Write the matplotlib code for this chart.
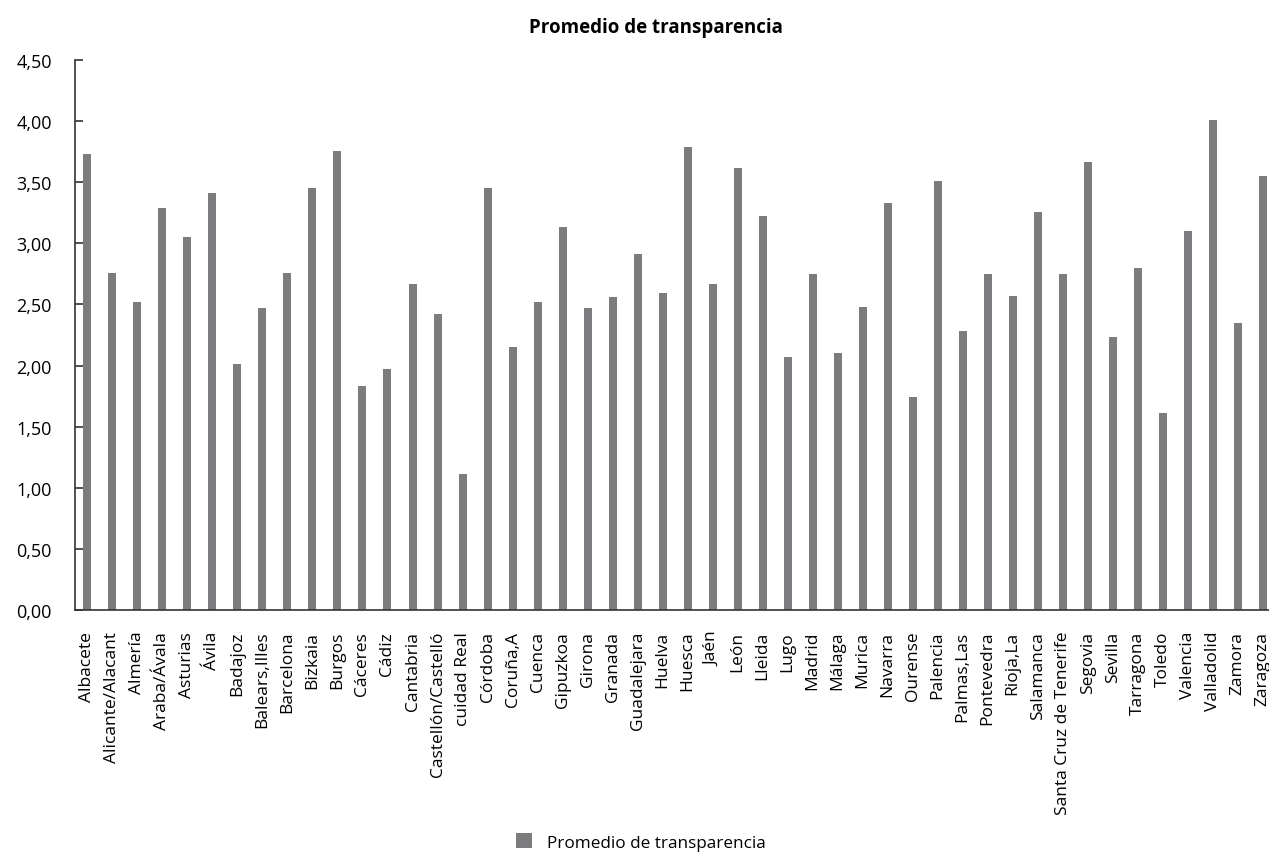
import numpy as np
import matplotlib.pyplot as plt
from matplotlib.ticker import FuncFormatter

provincias = ["Albacete", "Alicante/Alacant", "Almería", "Araba/Ávala", "Asturias", "Ávila",
              "Badajoz", "Balears,Illes", "Barcelona", "Bizkaia", "Burgos", "Cáceres", "Cádiz",
              "Cantabria", "Castellón/Castelló", "cuidad Real", "Córdoba", "Coruña,A", "Cuenca",
              "Gipuzkoa", "Girona", "Granada", "Guadalejara", "Huelva", "Huesca", "Jaén", "León",
              "Lleida", "Lugo", "Madrid", "Málaga", "Murica", "Navarra", "Ourense", "Palencia",
              "Palmas,Las", "Pontevedra", "Rioja,La", "Salamanca", "Santa Cruz de Tenerife",
              "Segovia", "Sevilla", "Tarragona", "Toledo", "Valencia", "Valladolid", "Zamora",
              "Zaragoza"]

promedio = [3.73, 2.76, 2.52, 3.29, 3.05, 3.41, 2.01, 2.47, 2.76, 3.45, 3.76, 1.83, 1.97,
            2.67, 2.42, 1.11, 3.45, 2.15, 2.52, 3.13, 2.47, 2.56, 2.91, 2.59, 3.79, 2.67, 3.62,
            3.22, 2.07, 2.75, 2.10, 2.48, 3.33, 1.74, 3.51, 2.28, 2.75, 2.57, 3.26, 2.75,
            3.67, 2.23, 2.80, 1.61, 3.10, 4.01, 2.35, 3.55]

yticks = [0, 0.5, 1.0, 1.5, 2.0, 2.5, 3.0, 3.5, 4.0, 4.5]

plt.rcParams['font.family'] = ['Open Sans', 'DejaVu Sans']

fig = plt.figure(figsize=(12.69, 8.54), dpi=100)
ax = fig.add_axes([0.059, 0.2845, 0.946, 0.644])

x = np.arange(len(provincias))
ax.bar(x, promedio, width=0.32, color='#7c7c7e', label='Promedio de transparencia')

ax.set_xlim(-0.5, len(provincias) - 0.5)
ax.set_ylim(0, 4.5)
ax.set_yticks(yticks)
ax.yaxis.set_major_formatter(FuncFormatter(lambda v, p: f"{v:.2f}".replace('.', ',')))
ax.set_xticks(x)
ax.set_xticklabels(provincias, rotation=90, fontsize=12.5)
ax.tick_params(axis='x', length=0, pad=15)
ax.tick_params(axis='y', direction='in', length=5.5, width=1.2, labelsize=13,
               color='#333333', pad=16.5)

for s in ['top', 'right']:
    ax.spines[s].set_visible(False)
for s in ['left', 'bottom']:
    ax.spines[s].set_color('#333333')
    ax.spines[s].set_linewidth(1.2)

fig.text(0.517, 0.967, 'Promedio de transparencia', ha='center', va='center',
         fontsize=13.5, fontweight='bold')

fig.legend(loc='center', bbox_to_anchor=(0.505, 0.013), frameon=False,
           fontsize=12.3, handlelength=0.95, handleheight=0.95, handletextpad=0.9)

fig.savefig('out.png', dpi=100)
